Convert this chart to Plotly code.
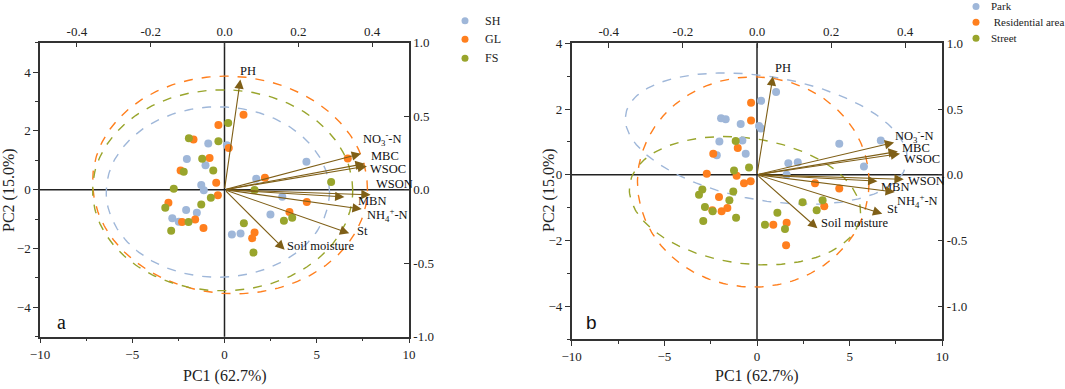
import numpy as np
import plotly.graph_objects as go

W, H = 1065, 389
FONT = "Liberation Serif"

# ---------------- data ----------------
COLORS = ["#9fb7d9", "#ff7f1e", "#99a52c"]
ARROW_COLOR = "#7f5f17"

# loadings (variables)
var_names = ["PH", "NO<sub>3</sub><sup>-</sup>-N", "MBC", "WSOC", "WSON", "MBN",
             "NH<sub>4</sub><sup>+</sup>-N", "St", "Soil moisture"]
load_x = [0.043, 0.370, 0.380, 0.386, 0.396, 0.325, 0.372, 0.338, 0.163]
load_y = [0.750, 0.245, 0.177, 0.160, -0.035, -0.049, -0.132, -0.297, -0.408]

# panel a groups
a_groups = ["SH", "GL", "FS"]
a_SH_x = [-0.88, 0.13, -2.04, -1.03, 4.44, 1.72, -1.26, -1.12, 3.13, -2.08, -1.50, -2.83, -2.48, 2.49, 0.40, 0.87]
a_SH_y = [1.57, 1.51, 1.04, 0.83, 0.95, 0.37, 0.16, -0.02, -0.24, -0.69, -0.78, -0.97, -1.09, -0.84, -1.52, -1.49]
a_GL_x = [1.03, -0.33, -1.68, 0.23, -0.81, 6.68, -2.38, 2.19, -0.45, -0.36, 4.46, -3.04, -1.59, -2.30, -1.14, 3.52, 1.63, 1.50]
a_GL_y = [2.55, 2.20, 1.71, 1.42, 1.08, 1.06, 0.65, 0.41, 0.24, -0.19, -0.42, -0.44, -1.01, -1.10, -1.30, -0.76, -1.46, -1.65]
a_FS_x = [0.20, -1.93, -0.33, -1.21, -0.61, -2.21, -2.75, 1.63, 5.78, -3.21, -1.26, -0.74, -1.95, -2.89, 3.22, 3.67, 1.05, 1.57]
a_FS_y = [2.27, 1.75, 1.65, 1.05, 0.65, 0.61, 0.03, -0.01, 0.26, -0.61, -0.50, -0.27, -1.10, -1.40, -1.06, -0.95, -1.14, -2.14]

# panel b groups
b_groups = ["Park", " Residential area", "Street"]
b_P_x = [1.03, 0.22, -1.94, -1.69, -0.88, 0.11, 0.22, -2.03, -0.79, -0.61, -2.17, 4.44, 6.68, 1.69, 2.20, 5.77, 1.60]
b_P_y = [2.52, 2.25, 1.72, 1.69, 1.54, 1.48, 1.41, 1.01, 1.04, 0.64, 0.59, 0.94, 1.04, 0.35, 0.38, 0.25, 0.00]
b_R_x = [-0.32, -0.32, -1.04, -2.36, -2.71, -1.10, -0.70, -0.34, 3.13, 4.44, -2.05, -1.91, -1.60, -2.41, 3.63, 0.88, 1.60, 1.57]
b_R_y = [2.19, 1.65, 0.81, 0.64, 0.03, -0.03, -0.26, -0.20, -0.26, -0.42, -0.68, -1.11, -1.01, -1.08, -0.96, -1.52, -1.46, -2.15]
b_S_x = [-1.15, -0.43, -1.24, -2.95, -3.13, -1.28, -1.49, -2.81, -2.39, -1.13, -2.90, 2.46, 3.54, 3.22, 1.10, 0.43, 1.51]
b_S_y = [1.03, 0.22, 0.13, -0.45, -0.61, -0.51, -0.78, -0.98, -1.11, -1.31, -1.41, -0.84, -0.78, -1.08, -1.16, -1.52, -1.65]

# confidence ellipses: centre x, centre y, semi-axis a, semi-axis b, angle (rad)
a_ell = [(-0.36, -0.08, 6.05, 2.90, 0.0),
         (0.30, 0.16, 7.45, 3.70, -0.02),
         (-0.10, -0.02, 7.05, 3.42, 0.0)]
b_ell = [(0.50, 1.10, 7.63, 1.90, -0.084),
         (-0.20, -0.22, 6.25, 3.20, 0.0),
         (-0.65, -0.79, 6.25, 1.92, -0.061)]

# label offsets (xshift, yshift) in pixels
a_lab = [(-2, 8), (0, 15), (4, 8), (1, -3), (3, 11), (12, -4), (3, -6), (6, 2), (0, 4)]
b_lab = [(0, 8), (-1, 7), (2, 3), (2, -5), (2, -2), (2, -6), (0, -9), (3, 5), (2, 5)]

# ---------------- figure ----------------
fig = go.Figure()

def ellipse(cx, cy, a, b, ang):
    t = np.linspace(0, 2 * np.pi, 241)
    x = cx + a * np.cos(t) * np.cos(ang) - b * np.sin(t) * np.sin(ang)
    y = cy + a * np.cos(t) * np.sin(ang) + b * np.sin(t) * np.cos(ang)
    return x, y

def panel(xa, ya, ells, pts, xr, yr, labs):
    for (cx, cy, a, b, ang), c in zip(ells, COLORS):
        ex, ey = ellipse(cx, cy, a, b, ang)
        fig.add_trace(go.Scatter(x=ex, y=ey, mode="lines", xaxis=xa, yaxis=ya,
                                 line=dict(color=c, dash="dash", width=1.4),
                                 showlegend=False, hoverinfo="skip"))
    for (px, py), c in zip(pts, COLORS):
        fig.add_trace(go.Scatter(x=px, y=py, mode="markers", xaxis=xa, yaxis=ya,
                                 marker=dict(color=c, size=8), showlegend=False))
    for n, lx, ly, (sx, sy) in zip(var_names, load_x, load_y, labs):
        fig.add_annotation(x=lx, y=ly, ax=0, ay=0, xref=xr, yref=yr, axref=xr, ayref=yr,
                           text="", showarrow=True, arrowhead=2, arrowsize=1.7,
                           arrowwidth=1.1, arrowcolor=ARROW_COLOR, standoff=0)
        fig.add_annotation(x=lx, y=ly, xref=xr, yref=yr, text=n, showarrow=False,
                           xanchor="left", yanchor="middle", xshift=sx, yshift=sy,
                           font=dict(family=FONT, size=12.5, color="#111"))

panel("x", "y", a_ell, [(a_SH_x, a_SH_y), (a_GL_x, a_GL_y), (a_FS_x, a_FS_y)], "x2", "y2", a_lab)
panel("x3", "y3", b_ell, [(b_P_x, b_P_y), (b_R_x, b_R_y), (b_S_x, b_S_y)], "x4", "y4", b_lab)

tickfont = dict(family=FONT, size=13, color="#222")
ax_common = dict(showgrid=False, showline=True, linecolor="#333", linewidth=1.5, automargin=False,
                 tickfont=tickfont, ticklen=5, tickwidth=1.3, tickcolor="#333", zeroline=False)

def px2fx(p):
    return p / W

def py2fy(p):
    return 1 - p / H

da_x = [px2fx(40), px2fx(409)]
da_y = [py2fy(336.7), py2fy(42.7)]
db_x = [px2fx(571.7), px2fx(942.3)]
db_y = [py2fy(339), py2fy(43.3)]

top_vals = [-0.4, -0.2, 0, 0.2, 0.4]
top_text = ["-0.4", "-0.2", "0.0", "0.2", "0.4"]
right_vals = [-1, -0.5, 0, 0.5, 1]
right_text = ["-1.0", "-0.5", "0.0", "0.5", "1.0"]
minor_x = dict(dtick=2.5, ticks="outside", ticklen=3, tickcolor="#333")
minor_y = dict(dtick=1, ticks="outside", ticklen=3, tickcolor="#333")

fig.update_layout(
    xaxis=dict(domain=da_x, range=[-10, 10], anchor="y", tickvals=[-10, -5, 0, 5, 10],
               ticks="outside", minor=minor_x, **ax_common),
    yaxis=dict(domain=da_y, range=[-5, 5], anchor="x", tickvals=[-4, -2, 0, 2, 4],
               ticks="outside", minor=minor_y, **ax_common),
    xaxis2=dict(domain=da_x, range=[-0.5, 0.5], anchor="y", overlaying="x", side="top",
                tickvals=top_vals, ticktext=top_text, ticks="inside", **ax_common),
    yaxis2=dict(domain=da_y, range=[-1, 1], anchor="x", overlaying="y", side="right",
                tickvals=right_vals, ticktext=right_text, ticks="inside", **ax_common),
    xaxis3=dict(domain=db_x, range=[-10, 10], anchor="y3", tickvals=[-10, -5, 0, 5, 10],
                ticks="outside", minor=minor_x, **ax_common),
    yaxis3=dict(domain=db_y, range=[-5, 4], anchor="x3", tickvals=[-4, -2, 0, 2, 4],
                ticks="outside", minor=minor_y, **ax_common),
    xaxis4=dict(domain=db_x, range=[-0.5, 0.5], anchor="y3", overlaying="x3", side="top",
                tickvals=top_vals, ticktext=top_text, ticks="inside", **ax_common),
    yaxis4=dict(domain=db_y, range=[-1.25, 1], anchor="x3", overlaying="y3", side="right",
                tickvals=right_vals, ticktext=right_text, ticks="inside", **ax_common),
    width=W, height=H, margin=dict(l=0, r=0, t=0, b=0),
    plot_bgcolor="white", paper_bgcolor="white", showlegend=False,
)

# zero lines (axis cross at origin)
for xa, ya in [("x", "y"), ("x3", "y3")]:
    fig.add_shape(type="line", xref=f"{xa} domain", yref=ya, x0=0, x1=1, y0=0, y1=0,
                  line=dict(color="#222", width=1.5), layer="below")
    fig.add_shape(type="line", xref=xa, yref=f"{ya} domain", x0=0, x1=0, y0=0, y1=1,
                  line=dict(color="#222", width=1.5), layer="below")

def paper_text(px, py, text, font, **kw):
    fig.add_annotation(x=px2fx(px), y=py2fy(py), xref="paper", yref="paper", text=text,
                       showarrow=False, xanchor=kw.pop("xanchor", "center"), yanchor="middle",
                       font=font, **kw)

# axis titles
title_font = dict(family=FONT, size=16, color="#222")
for cxp in [225, 757]:
    paper_text(cxp, 376, "PC1 (62.7%)", title_font)
for cxp in [9, 549]:
    paper_text(cxp, 190, "PC2 (15.0%)", title_font, textangle=-90)

# panel letters
paper_text(61, 322, "a", dict(family=FONT, size=20, color="#111"))
paper_text(591, 322, "b", dict(family="Liberation Sans", size=19, color="#111"))

# legends
def legend(names, mx, tx, ys, fsize):
    for n, c, yy in zip(names, COLORS, ys):
        fig.add_shape(type="circle", xref="paper", yref="paper", xsizemode="pixel", ysizemode="pixel",
                      xanchor=px2fx(mx), yanchor=py2fy(yy), x0=-3.5, x1=3.5, y0=-3.5, y1=3.5,
                      fillcolor=c, line=dict(width=0))
        paper_text(tx, yy, n, dict(family=FONT, size=fsize, color="#222"), xanchor="left")

legend(a_groups, 465, 483, [20.7, 39.3, 58.3], 12)
legend(b_groups, 976, 989, [6.5, 22.2, 38.3], 11)

fig.write_html("out.html", config={"displayModeBar": False},
               post_script="document.body.style.margin='0px';document.body.style.padding='0px';")
